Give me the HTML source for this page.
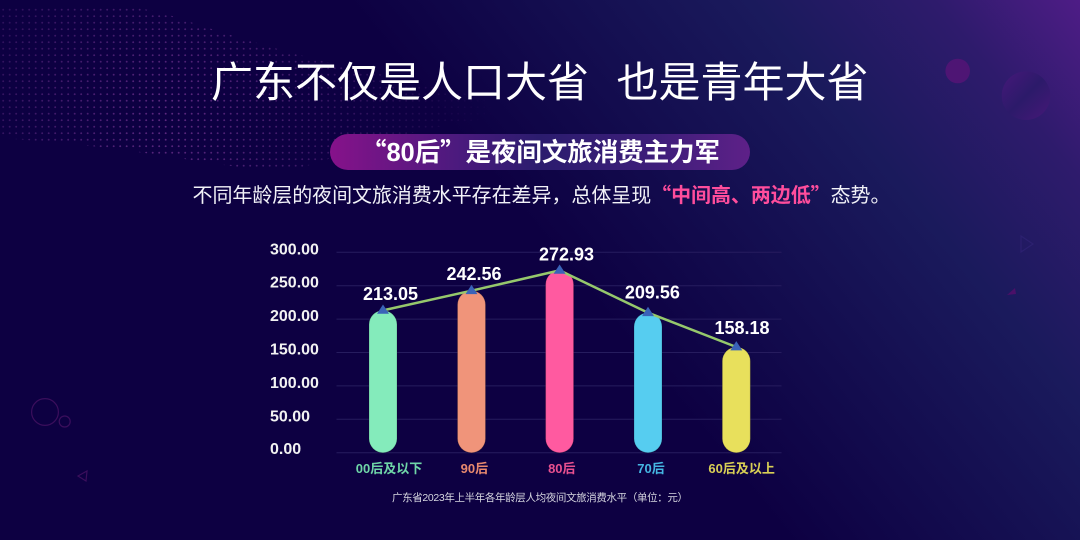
<!DOCTYPE html>
<html>
<head>
<meta charset="utf-8">
<style>
  html, body { margin: 0; padding: 0; background: #0d0042; }
  body { width: 1080px; height: 540px; overflow: hidden; }
  svg { display: block; }
  .cjk { font-family: "Liberation Sans", "Noto Sans CJK SC", sans-serif; }
  .q { font-family: "Noto Sans CJK SC", "Liberation Sans", sans-serif; }
  .num { font-family: "Liberation Sans", "DejaVu Sans", sans-serif; font-weight: bold; }
</style>
</head>
<body>
<svg width="1080" height="540" viewBox="0 0 1080 540" xmlns="http://www.w3.org/2000/svg">
  <defs>
    <linearGradient id="bgGrad" gradientUnits="userSpaceOnUse" x1="1080" y1="0" x2="640" y2="360">
      <stop offset="0" stop-color="#4e1c86"/>
      <stop offset="0.2" stop-color="#2e1b6c"/>
      <stop offset="0.45" stop-color="#1a1a5c"/>
      <stop offset="1" stop-color="#0d0042"/>
    </linearGradient>
    <radialGradient id="topGlow" gradientUnits="userSpaceOnUse" cx="700" cy="20" r="420">
      <stop offset="0" stop-color="#1c1e60" stop-opacity="0.6"/>
      <stop offset="1" stop-color="#1c1e60" stop-opacity="0"/>
    </radialGradient>
    <linearGradient id="pillGrad" x1="0" y1="0" x2="1" y2="0">
      <stop offset="0" stop-color="#86128a"/>
      <stop offset="0.3" stop-color="#4c1a7e"/>
      <stop offset="0.5" stop-color="#2b1c6e"/>
      <stop offset="0.78" stop-color="#3e1e7a"/>
      <stop offset="1" stop-color="#5e2088"/>
    </linearGradient>
    <linearGradient id="bigCirc" x1="0" y1="0" x2="1" y2="1">
      <stop offset="0" stop-color="#46187a"/>
      <stop offset="0.5" stop-color="#2c1a6a"/>
      <stop offset="1" stop-color="#461878"/>
    </linearGradient>
    <pattern id="dots" width="6.5" height="6.5" patternUnits="userSpaceOnUse">
      <circle cx="3.2" cy="3.2" r="0.95" fill="#a04ab4"/>
    </pattern>
    <radialGradient id="dotFade" gradientUnits="userSpaceOnUse" cx="170" cy="120" r="330">
      <stop offset="0" stop-color="#fff" stop-opacity="0.55"/>
      <stop offset="0.55" stop-color="#fff" stop-opacity="0.25"/>
      <stop offset="1" stop-color="#fff" stop-opacity="0"/>
    </radialGradient>
    <mask id="dotMask">
      <rect x="0" y="0" width="1080" height="540" fill="url(#dotFade)"/>
    </mask>
  </defs>

  <!-- background -->
  <rect x="0" y="0" width="1080" height="540" fill="#0d0042"/>
  <rect x="0" y="0" width="1080" height="540" fill="url(#topGlow)"/>
  <rect x="0" y="0" width="1080" height="540" fill="url(#bgGrad)"/>

  <!-- dotted wave -->
  <path d="M0,8 C60,4 110,2 160,12 C230,35 330,70 480,92 L500,118 C420,124 360,150 300,168 C230,175 180,150 0,138 Z"
        fill="url(#dots)" mask="url(#dotMask)"/>

  <!-- decorations -->
  <circle cx="957.7" cy="71" r="12.3" fill="#4e1574"/>
  <circle cx="1026" cy="95.7" r="24.3" fill="url(#bigCirc)"/>
  <circle cx="45" cy="412" r="13.4" fill="none" stroke="#3b0e5c" stroke-width="1.2"/>
  <circle cx="64.7" cy="421.5" r="5.5" fill="none" stroke="#3b0e5c" stroke-width="1.2"/>
  <polygon points="78,476 87,471 86,481" fill="none" stroke="#3b0e5c" stroke-width="1.2"/>
  <polygon points="1021,236 1033,244 1021,252" fill="none" stroke="#2c2070" stroke-width="1.2"/>
  <polygon points="1007,295 1015,288 1016,294" fill="#4a1068"/>

  <!-- title -->
  <text class="cjk" x="211" y="97" font-size="42" fill="#ffffff" textLength="378" lengthAdjust="spacing">广东不仅是人口大省</text>
  <text class="cjk" x="616.5" y="97" font-size="42" fill="#ffffff" textLength="252" lengthAdjust="spacing">也是青年大省</text>

  <!-- pill -->
  <rect x="330" y="134" width="420" height="36" rx="18" ry="18" fill="url(#pillGrad)"/>
  <text class="cjk" x="361" y="161" font-size="25.5" font-weight="bold" fill="#ffffff" textLength="359" lengthAdjust="spacing"><tspan class="q">“</tspan>80后<tspan class="q">”</tspan>是夜间文旅消费主力军</text>

  <!-- subtitle -->
  <text class="cjk" x="192.5" y="202" font-size="20" fill="#f2f2f8" textLength="698" lengthAdjust="spacing">不同年龄层的夜间文旅消费水平存在差异，总体呈现<tspan class="q" fill="#ff4d9c" font-weight="bold">“</tspan><tspan fill="#ff4d9c" font-weight="bold">中间高、两边低</tspan><tspan class="q" fill="#ff4d9c" font-weight="bold">”</tspan>态势。</text>

  <!-- gridlines -->
  <g stroke="#261c5e" stroke-width="1">
    <line x1="336.5" y1="252.3" x2="781.5" y2="252.3"/>
    <line x1="336.5" y1="285.7" x2="781.5" y2="285.7"/>
    <line x1="336.5" y1="319.1" x2="781.5" y2="319.1"/>
    <line x1="336.5" y1="352.5" x2="781.5" y2="352.5"/>
    <line x1="336.5" y1="385.9" x2="781.5" y2="385.9"/>
    <line x1="336.5" y1="419.3" x2="781.5" y2="419.3"/>
    <line x1="336.5" y1="452.7" x2="781.5" y2="452.7"/>
  </g>

  <!-- y labels -->
  <g class="num" font-size="16" fill="#f2f2f2">
    <text x="270" y="254.3">300.00</text>
    <text x="270" y="287.7">250.00</text>
    <text x="270" y="321.1">200.00</text>
    <text x="270" y="354.5">150.00</text>
    <text x="270" y="387.9">100.00</text>
    <text x="270" y="421.3">50.00</text>
    <text x="270" y="454.2">0.00</text>
  </g>

  <!-- bars -->
  <g stroke="rgba(0,0,0,0.18)" stroke-width="1">
    <rect x="369" y="310.4" width="28" height="142.3" rx="14" ry="14" fill="#84ebbb"/>
    <rect x="457.5" y="290.7" width="28" height="162" rx="14" ry="14" fill="#f0947a"/>
    <rect x="545.6" y="270.4" width="28" height="182.3" rx="14" ry="14" fill="#ff5aa0"/>
    <rect x="634" y="312.7" width="28" height="140" rx="14" ry="14" fill="#56cdf0"/>
    <rect x="722.3" y="347" width="28" height="105.7" rx="14" ry="14" fill="#e8e05c"/>
  </g>

  <!-- line -->
  <polyline points="383,310.4 471.5,290.7 559.6,270.4 648,312.7 736.3,347" fill="none" stroke="#96c86c" stroke-width="2.5" stroke-linejoin="round"/>

  <!-- markers -->
  <g fill="#3a63b8">
    <polygon points="383,304.5 377,313.8 389,313.8"/>
    <polygon points="471.5,284.8 465.5,294.1 477.5,294.1"/>
    <polygon points="559.6,264.5 553.6,273.8 565.6,273.8"/>
    <polygon points="648,306.8 642,316.1 654,316.1"/>
    <polygon points="736.3,341.1 730.3,350.4 742.3,350.4"/>
  </g>

  <!-- data labels -->
  <g class="num" font-size="18" fill="#ffffff" text-anchor="middle">
    <text x="390.5" y="300">213.05</text>
    <text x="474" y="280">242.56</text>
    <text x="566.5" y="260.7">272.93</text>
    <text x="652.4" y="298.5">209.56</text>
    <text x="742" y="334">158.18</text>
  </g>

  <!-- x labels -->
  <g class="cjk" font-size="13" font-weight="bold" text-anchor="middle">
    <text x="389" y="473" fill="#6fd6a8">00后及以下</text>
    <text x="474.4" y="473" fill="#e8896e">90后</text>
    <text x="561.8" y="473" fill="#e8508f">80后</text>
    <text x="651" y="473" fill="#45b6e2">70后</text>
    <text x="741.6" y="473" fill="#d9cf55">60后及以上</text>
  </g>

  <!-- caption -->
  <text class="cjk" x="392" y="501" font-size="10.5" fill="#d6d6e0" textLength="296" lengthAdjust="spacing">广东省2023年上半年各年龄层人均夜间文旅消费水平（单位：元）</text>
</svg>
</body>
</html>
